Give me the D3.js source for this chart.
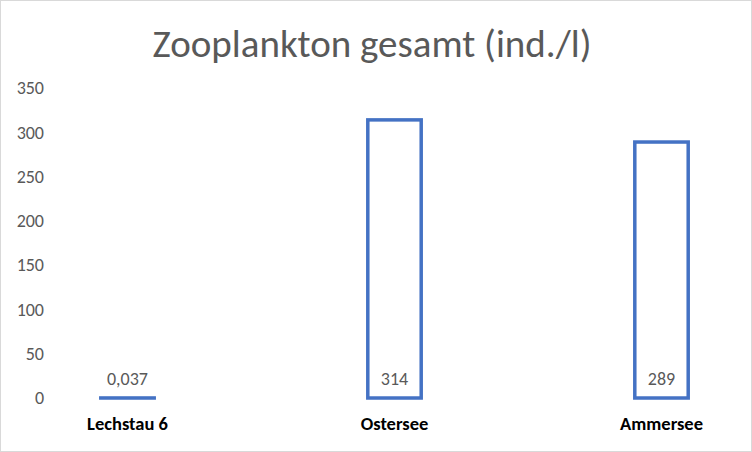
<!DOCTYPE html>
<html>
<head>
<meta charset="utf-8">
<script src="https://cdn.jsdelivr.net/npm/d3@7"></script>
<style>
  html, body { margin: 0; padding: 0; background: #fff; }
  svg { display: block; }
</style>
</head>
<body>
<svg id="chart" width="752" height="452"></svg>
<script>
const title = "Zooplankton gesamt (ind./l)";
const categories = ["Lechstau 6", "Ostersee", "Ammersee"];
const values = [0.037, 314, 289];
const valueLabels = ["0,037", "314", "289"];
const yTicks = [0, 50, 100, 150, 200, 250, 300, 350];

const W = 752, H = 452;
const font = "Carlito, Calibri, Lato, 'Open Sans', sans-serif";
const svg = d3.select("#chart");

svg.append("rect")
  .attr("x", 0.5).attr("y", 0.5).attr("width", W - 1).attr("height", H - 1)
  .attr("fill", "#fff").attr("stroke", "#d9d9d9").attr("stroke-width", 1);

const x = d3.scaleBand().domain(categories).range([-6, 795])
  .paddingInner(0.8).paddingOuter(0.4);
const y = d3.scaleLinear().domain([0, 350]).range([398, 88]);

svg.append("text")
  .attr("x", 372).attr("y", 57)
  .attr("text-anchor", "middle")
  .attr("font-family", font).attr("font-size", 39)
  .attr("fill", "#595959")
  .text(title);

const yAxis = svg.append("g").attr("transform", "translate(44,0)")
  .call(d3.axisLeft(y).tickValues(yTicks).tickSize(0).tickPadding(0));
yAxis.select(".domain").remove();
yAxis.selectAll("text")
  .attr("font-family", font).attr("font-size", 18)
  .attr("fill", "#595959");

const xAxis = svg.append("g").attr("transform", "translate(0,398)")
  .call(d3.axisBottom(x).tickSize(0).tickPadding(19));
xAxis.select(".domain").remove();
xAxis.selectAll("text")
  .attr("font-family", font).attr("font-size", 18.5)
  .attr("font-weight", "bold")
  .attr("fill", "#000");

svg.selectAll("rect.bar").data(values).join("rect")
  .attr("class", "bar")
  .attr("x", (d, i) => x(categories[i]))
  .attr("y", d => y(d))
  .attr("width", x.bandwidth())
  .attr("height", d => y(0) - y(d))
  .attr("fill", "#fff")
  .attr("stroke", "#4472c4")
  .attr("stroke-width", 3.5);

svg.selectAll("text.lbl").data(values).join("text")
  .attr("class", "lbl")
  .attr("x", (d, i) => x(categories[i]) + x.bandwidth() / 2)
  .attr("y", y(0) - 13)
  .attr("text-anchor", "middle")
  .attr("font-family", font).attr("font-size", 18)
  .attr("fill", "#595959")
  .text((d, i) => valueLabels[i]);
</script>
</body>
</html>
